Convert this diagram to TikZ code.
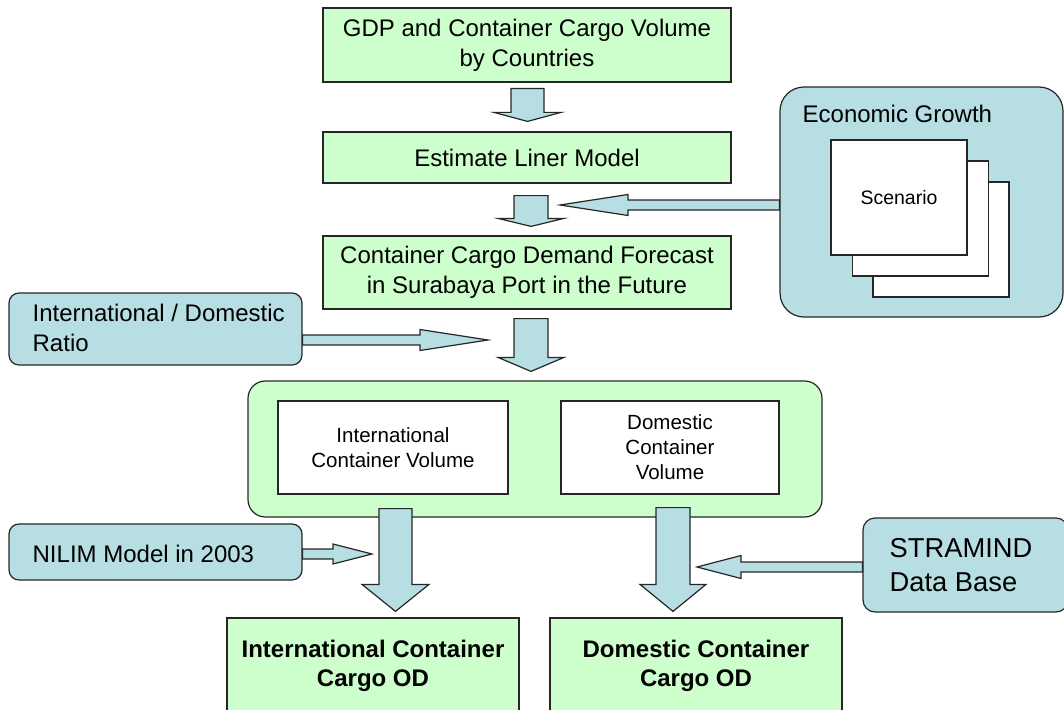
\documentclass[tikz,border=0pt]{standalone}
\usepackage{fontspec}
\setmainfont{Liberation Sans}
\usetikzlibrary{calc}

\definecolor{boxgreen}{RGB}{204,255,204}
\definecolor{boxblue}{RGB}{183,222,226}

% font sizes
\newcommand{\mainfs}{\fontsize{18}{22.5}\selectfont}
\newcommand{\boldfs}{\fontsize{18}{21.75}\selectfont\bfseries}
\newcommand{\volfs}{\fontsize{15.4}{18.75}\selectfont}
\newcommand{\scenfs}{\fontsize{14.6}{17.5}\selectfont}
\newcommand{\stramfs}{\fontsize{20.5}{25.5}\selectfont}

% fat arrows, sizes in px: half shaft, half head, head length
\newcommand{\blockdown}[5]{%
  \draw[blockarrow] let \p1=(#1), \p2=(#2) in
    (\x1-#3*0.75pt,\y1) -- (\x1+#3*0.75pt,\y1) -- (\x1+#3*0.75pt,\y2+#5*0.75pt)
    -- (\x1+#4*0.75pt,\y2+#5*0.75pt) -- (\x1,\y2) -- (\x1-#4*0.75pt,\y2+#5*0.75pt)
    -- (\x1-#3*0.75pt,\y2+#5*0.75pt) -- cycle;}
\newcommand{\blockh}[5]{%
  \draw[blockarrow] let \p1=(#1), \p2=(#2), \n1={sign(\x2-\x1)} in
    (\x1,\y1+#3*0.75pt) -- (\x2-\n1*#5*0.75pt,\y1+#3*0.75pt) -- (\x2-\n1*#5*0.75pt,\y1+#4*0.75pt)
    -- (\x2,\y1) -- (\x2-\n1*#5*0.75pt,\y1-#4*0.75pt) -- (\x2-\n1*#5*0.75pt,\y1-#3*0.75pt)
    -- (\x1,\y1-#3*0.75pt) -- cycle;}

\begin{document}
\begin{tikzpicture}[x=0.75pt,y=-0.75pt,
    mainbox/.style={draw=black!85, line width=0.9pt, fill=boxgreen, inner sep=0pt,
      align=center, minimum width=306pt, font=\mainfs},
    odbox/.style={draw=black!85, line width=0.9pt, fill=boxgreen, inner sep=0pt,
      align=center, minimum width=219pt, minimum height=72pt, font=\boldfs},
    inbox/.style={draw=black!85, line width=0.9pt, fill=boxblue, rounded corners=7.5pt},
    sheet/.style={draw=black!85, line width=0.9pt, fill=white, inner sep=0pt,
      minimum width=102pt, minimum height=86.25pt},
    volbox/.style={draw=black!85, line width=0.9pt, fill=white, inner sep=0pt,
      align=center, minimum height=69.75pt, font=\volfs},
    blockarrow/.style={draw=black!85, line width=0.9pt, fill=boxblue, line join=miter}]
  \useasboundingbox (0,0) rectangle (1064,710);
  \clip (0,0) rectangle (1064,710);

  % forecast chain
  \node[mainbox, minimum height=55.5pt] (gdp) at (527,45) {GDP and Container Cargo Volume\\by Countries};
  \node[mainbox, minimum height=38.25pt] (liner) at (527,157.5) {Estimate Liner Model};
  \node[mainbox, minimum height=54.75pt] (fcst) at (527,272.5) {Container Cargo Demand Forecast\\in Surabaya Port in the Future};

  % economic growth with stacked scenarios
  \node[inbox, rounded corners=18pt, minimum width=212.25pt, minimum height=172.5pt] (econ) at (921.5,202) {};
  \node[font=\mainfs, inner sep=0pt, anchor=west] (ectext) at ($(econ.north west)+(23,28)$) {Economic Growth};
  \node[sheet] (sc3) at (941,239.5) {};
  \node[sheet] (sc2) at (920.5,218.5) {};
  \node[sheet, font=\scenfs] (sc1) at (899,197.5) {Scenario};

  % inputs on the left and right
  \node[inbox, minimum width=219.75pt, minimum height=54pt] (ratio) at (155.5,329) {};
  \node[font=\mainfs, inner sep=0pt, align=left, anchor=west] (rtext) at ($(ratio.west)+(24,-1)$) {International / Domestic\\Ratio};
  \node[inbox, minimum width=219.75pt, minimum height=42pt] (nilim) at (155.5,552) {};
  \node[font=\mainfs, inner sep=0pt, anchor=west] (ntext) at ($(nilim.west)+(24,2)$) {NILIM Model in 2003};
  \node[inbox, rounded corners=9pt, minimum width=153.75pt, minimum height=70.5pt] (stram) at (965.5,565) {};
  \node[font=\stramfs, inner sep=0pt, align=left, anchor=west] (stext) at ($(stram.west)+(27,0)$) {STRAMIND\\Data Base};

  % split into international and domestic volume
  \node[draw=black!85, line width=0.9pt, fill=boxgreen, rounded corners=13pt,
    minimum width=430.5pt, minimum height=102pt] (vol) at (535,449) {};
  \node[volbox, minimum width=172.5pt] (intl) at (393,447.5) {International\\Container Volume};
  \node[volbox, minimum width=163.5pt] (dom) at (670,447.5) {Domestic\\Container\\Volume};

  % results
  \node[odbox] (intlod) at (373,666) {International Container\\Cargo OD};
  \node[odbox] (domod) at (696,666) {Domestic Container\\Cargo OD};

  % arrows
  \coordinate (ectip) at (560,205);
  \coordinate (rtip) at (488,340);
  \coordinate (ntip) at (372,554);
  \coordinate (stip) at (697,567);
  \blockdown{$(gdp.south)+(0.5,6)$}{$(liner.north)+(0,-10)$}{16.5}{33.5}{9}
  \blockdown{$(liner.south)+(4,12)$}{$(fcst.north)+(0,-9)$}{17}{33}{8}
  \blockdown{$(fcst.south)+(4,9)$}{$(vol.north)+(0,-9)$}{17}{33}{14}
  \blockdown{$(intl.south)+(2.5,14)$}{$(intlod.north)+(0,-6)$}{16.5}{33.5}{27}
  \blockdown{$(dom.south)+(3,13)$}{$(domod.north)+(0,-6)$}{17}{33}{27}
  \blockh{$(econ.west)+(0,3)$}{ectip}{5}{10.5}{68}
  \blockh{$(ratio.east)+(0,11)$}{rtip}{5}{10.5}{68}
  \blockh{$(nilim.east)+(0,2)$}{ntip}{5}{10}{39}
  \blockh{$(stram.west)+(0,2)$}{stip}{5}{11.5}{44}
\end{tikzpicture}
\end{document}
